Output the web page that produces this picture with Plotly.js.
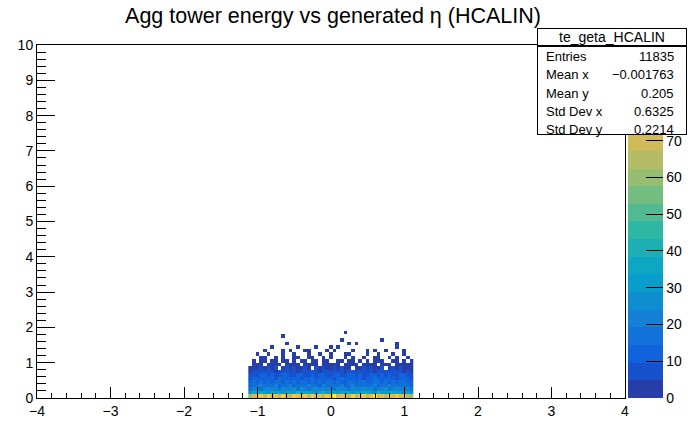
<!DOCTYPE html>
<html>
<head>
<meta charset="utf-8">
<script src="https://cdn.plot.ly/plotly-3.0.1.min.js"></script>
<style>html,body{margin:0;padding:0;background:#fff;}#chart{width:690px;height:421px;}</style>
</head>
<body>
<div id="chart"></div>
<script>
// ---- data ----
const etaCenters = [-1.1,-1.05,-1,-0.95,-0.9,-0.85,-0.8,-0.75,-0.7,-0.65,-0.6,-0.55,-0.5,-0.45,-0.4,-0.35,-0.3,-0.25,-0.2,-0.15,-0.1,-0.05,0,0.05,0.1,0.15,0.2,0.25,0.3,0.35,0.4,0.45,0.5,0.55,0.6,0.65,0.7,0.75,0.8,0.85,0.9,0.95,1,1.05,1.1];
const energyCenters = [0.05,0.15,0.25,0.35,0.45,0.55,0.65,0.75,0.85,0.95,1.05,1.15,1.25,1.35,1.45,1.55,1.65,1.75,1.85];

const counts_e00 = [60,68,72,78,64,82,70,74,66,86,71,65,79,73,69,77,63,84,70,75,67,80,73,96,68,76,71,64,82,67,74,78,65,72,88,69,75,64,80,71,77,68,73,66,58];
const counts_e01 = [26,34,29,37,32,25,38,31,35,28,36,33,30,39,27,34,37,31,26,35,40,32,29,36,33,36,30,34,28,38,32,35,37,31,26,39,33,29,36,34,31,37,27,32,24];
const counts_e02 = [17,22,24,19,22,26,20,23,18,25,21,22,27,19,24,21,17,23,25,20,22,21,26,18,24,21,23,19,25,22,20,27,21,24,18,23,21,25,19,22,26,20,21,23,16];
const counts_e03 = [14,18,16,20,15,19,17,21,13,18,16,20,14,19,17,15,21,18,16,13,20,17,19,15,18,21,14,17,20,16,18,15,19,17,21,14,18,16,20,15,17,19,16,18,12];
const counts_e04 = [12,15,13,17,14,16,12,18,15,13,17,14,16,11,15,18,13,16,14,17,12,15,18,13,16,14,12,17,15,13,16,18,14,12,15,17,13,16,14,18,12,15,17,14,11];
const counts_e05 = [9,12,11,14,10,13,12,9,15,11,13,10,12,14,9,13,11,15,12,10,14,11,13,9,12,15,10,13,11,14,12,9,13,11,15,10,12,14,11,13,9,12,10,13,8];
const counts_e06 = [7,9,8,11,10,8,12,9,7,10,11,8,9,12,10,7,9,11,8,10,12,9,7,11,10,8,9,12,10,7,11,9,8,10,12,9,11,7,10,8,9,11,10,8,6];
const counts_e07 = [4,6,5,7,8,5,6,4,7,6,8,5,7,4,6,8,5,7,6,4,8,6,5,7,6,8,4,7,5,6,8,5,7,6,4,7,5,8,6,5,7,6,4,6,3];
const counts_e08 = [2,4,3,5,4,6,3,5,0,3,5,4,6,3,4,5,2,0,6,3,5,4,3,5,4,6,2,4,0,3,4,6,3,5,4,2,5,0,3,6,4,5,3,4,2];
const counts_e09 = [0,2,1,3,0,4,1,2,3,0,4,2,3,1,0,3,4,1,2,0,2,1,4,2,3,0,2,4,3,1,0,3,1,4,2,0,1,2,4,0,3,2,1,3,1];
const counts_e10 = [0,1,0,2,1,0,1,2,0,1,3,0,1,0,2,1,0,2,1,0,2,1,0,0,1,2,0,1,2,0,1,0,2,0,1,1,2,0,0,1,2,0,1,0,1];
const counts_e11 = [0,0,0,1,1,0,0,1,0,1,0,0,1,1,0,0,1,1,0,0,1,0,1,0,0,0,1,0,1,0,0,1,0,0,1,1,0,0,1,0,1,0,0,1,0];
const counts_e12 = [0,0,1,0,0,1,0,0,0,1,0,0,1,0,0,0,1,0,0,1,0,0,1,0,0,0,1,1,0,0,0,0,1,0,0,1,0,0,0,1,0,0,1,0,0];
const counts_e13 = [0,0,0,0,1,0,0,0,0,1,0,1,0,0,0,1,1,0,0,0,0,1,0,1,0,0,0,0,1,0,0,0,1,0,1,0,0,1,0,0,0,0,1,0,0];
const counts_e14 = [0,0,0,0,0,0,1,0,0,0,0,0,0,1,0,0,0,0,1,0,0,0,1,0,1,0,0,0,0,0,0,0,0,0,0,0,0,0,0,0,1,0,0,0,0];
const counts_e15 = [0,0,0,0,0,0,0,0,0,0,1,0,0,0,0,0,0,0,0,0,0,0,0,0,0,0,0,1,0,1,0,0,0,0,0,0,0,0,0,0,1,0,0,0,0];
const counts_e16 = [0,0,0,0,0,0,0,0,0,0,0,0,0,0,0,0,0,0,0,0,0,0,0,0,0,1,0,0,0,0,0,0,0,0,0,0,1,0,0,0,0,0,0,0,0];
const counts_e17 = [0,0,0,0,0,0,0,0,0,1,0,0,0,0,0,0,0,0,0,0,0,0,0,0,0,0,0,0,0,0,0,0,0,0,0,0,0,0,0,0,0,0,0,0,0];
const counts_e18 = [0,0,0,0,0,0,0,0,0,0,0,0,0,0,0,0,0,0,0,0,0,0,0,0,0,0,1,0,0,0,0,0,0,0,0,0,0,0,0,0,0,0,0,0,0];

const statName = 'te_geta_HCALIN';
const statLabels = ['Entries','Mean x','Mean y','Std Dev x','Std Dev y'];
const statValues = ['11835','\u22120.001763','0.205','0.6325','0.2214'];
const colorbarTicks = [0,10,20,30,40,50,60,70];
const zMaximum = 96;

// ---- build ----
const countRows = [counts_e00,counts_e01,counts_e02,counts_e03,counts_e04,counts_e05,counts_e06,counts_e07,counts_e08,counts_e09,counts_e10,counts_e11,counts_e12,counts_e13,counts_e14,counts_e15,counts_e16,counts_e17,counts_e18];
const zGrid = countRows.map(r => r.map(v => v > 0 ? v : null));

// ROOT kBird palette, 20 contour levels
const st = [0,0.125,0.25,0.375,0.5,0.625,0.75,0.875,1];
const rr = [0.2082,0.0592,0.0780,0.0232,0.1802,0.5301,0.8186,0.9956,0.9764];
const gg = [0.1664,0.3599,0.5041,0.6419,0.7178,0.7492,0.7328,0.7862,0.9832];
const bb = [0.5293,0.8684,0.8385,0.7914,0.6425,0.4662,0.3499,0.1968,0.0539];
function bird(f){
  let i = 0; while(i < st.length-2 && f > st[i+1]) i++;
  const t = (f - st[i])/(st[i+1]-st[i]);
  const c = a => Math.round(255*(a[i] + t*(a[i+1]-a[i])));
  return 'rgb(' + c(rr) + ',' + c(gg) + ',' + c(bb) + ')';
}
const NDIV = 20, NCOL = 255;
const cscale = [];
for (let i = 0; i < NDIV; i++) {
  const idx = Math.floor((i + 0.99) * NCOL / NDIV);
  const col = bird(Math.min(1, idx / (NCOL - 1)));
  cscale.push([i / NDIV, col]);
  cscale.push([(i + 1) / NDIV, col]);
}

const L = 37, T = 45, W = 588, H = 353;
const px2x = p => (p - L) / W;
const py2y = p => (T + H - p) / H;
const FONT = 'Liberation Sans, Arial, Helvetica, sans-serif';

const trace = {
  type: 'heatmap', x: etaCenters, y: energyCenters, z: zGrid,
  zmin: 0, zmax: zMaximum, colorscale: cscale, zsmooth: false,
  hoverinfo: 'skip',
  colorbar: {
    x: px2x(628), xanchor: 'left', xref: 'paper', xpad: 0, ypad: 0,
    y: 0.5, yanchor: 'middle', len: 1, lenmode: 'fraction',
    thickness: 35, thicknessmode: 'pixels', outlinewidth: 0,
    ticks: 'inside', ticklen: 17, tickcolor: 'black', tickwidth: 1,
    tickmode: 'array', tickvals: colorbarTicks, ticktext: colorbarTicks.map(String),
    tickfont: {family: FONT, size: 14, color: 'black'}
  }
};

const annotations = [];
annotations.push({xref:'paper', yref:'paper', x:px2x(537), y:py2y(46), xanchor:'left', yanchor:'top',
  width:148, height:87, text:' ', showarrow:false, bgcolor:'white', bordercolor:'black', borderwidth:1, borderpad:0});
annotations.push({xref:'paper', yref:'paper', x:px2x(537), y:py2y(28), xanchor:'left', yanchor:'top',
  width:148, height:16, text:statName, align:'center', showarrow:false, bgcolor:'white', bordercolor:'black', borderwidth:1, borderpad:0,
  font:{family:FONT, size:14, color:'black'}});
const rowY = [56.8, 75, 93.3, 111.5, 129.5];
statLabels.forEach((lab, i) => {
  annotations.push({xref:'paper', yref:'paper', x:px2x(544), y:py2y(rowY[i]), xanchor:'left', yanchor:'middle',
    text:lab, showarrow:false, font:{family:FONT, size:13, color:'black'}});
  annotations.push({xref:'paper', yref:'paper', x:px2x(676), y:py2y(rowY[i]), xanchor:'right', yanchor:'middle',
    text:statValues[i], showarrow:false, font:{family:FONT, size:13, color:'black'}});
});

const axisCommon = {
  showgrid: false, zeroline: false, showline: true, mirror: true,
  linecolor: 'black', linewidth: 1, ticks: 'inside', tickcolor: 'black', tickwidth: 1,
  tickfont: {family: FONT, size: 14, color: 'black'}
};

const layout = {
  width: 690, height: 421,
  margin: {l: L, r: 690 - L - W, t: T, b: 421 - T - H, pad: 0, autoexpand: false},
  paper_bgcolor: 'white', plot_bgcolor: 'white',
  title: {text: 'Agg tower energy vs generated \u03b7 (HCALIN)', font: {family: FONT, size: 21.5, color: 'black'},
    x: 333/690, xref: 'container', xanchor: 'center', y: 1 - 15/421, yref: 'container', yanchor: 'middle'},
  xaxis: Object.assign({}, axisCommon, {range: [-4, 4], dtick: 1, tick0: 0, ticklen: 10.6,
    minor: {dtick: 0.2, tick0: 0, ticks: 'inside', ticklen: 5.3, tickcolor: 'black', showgrid: false}}),
  yaxis: Object.assign({}, axisCommon, {range: [0, 10], dtick: 1, tick0: 0, ticklen: 17.6,
    minor: {dtick: 0.2, tick0: 0, ticks: 'inside', ticklen: 8.8, tickcolor: 'black', showgrid: false}}),
  annotations: annotations,
  showlegend: false
};

Plotly.newPlot('chart', [trace], layout, {displayModeBar: false, staticPlot: true});
</script>
</body>
</html>
